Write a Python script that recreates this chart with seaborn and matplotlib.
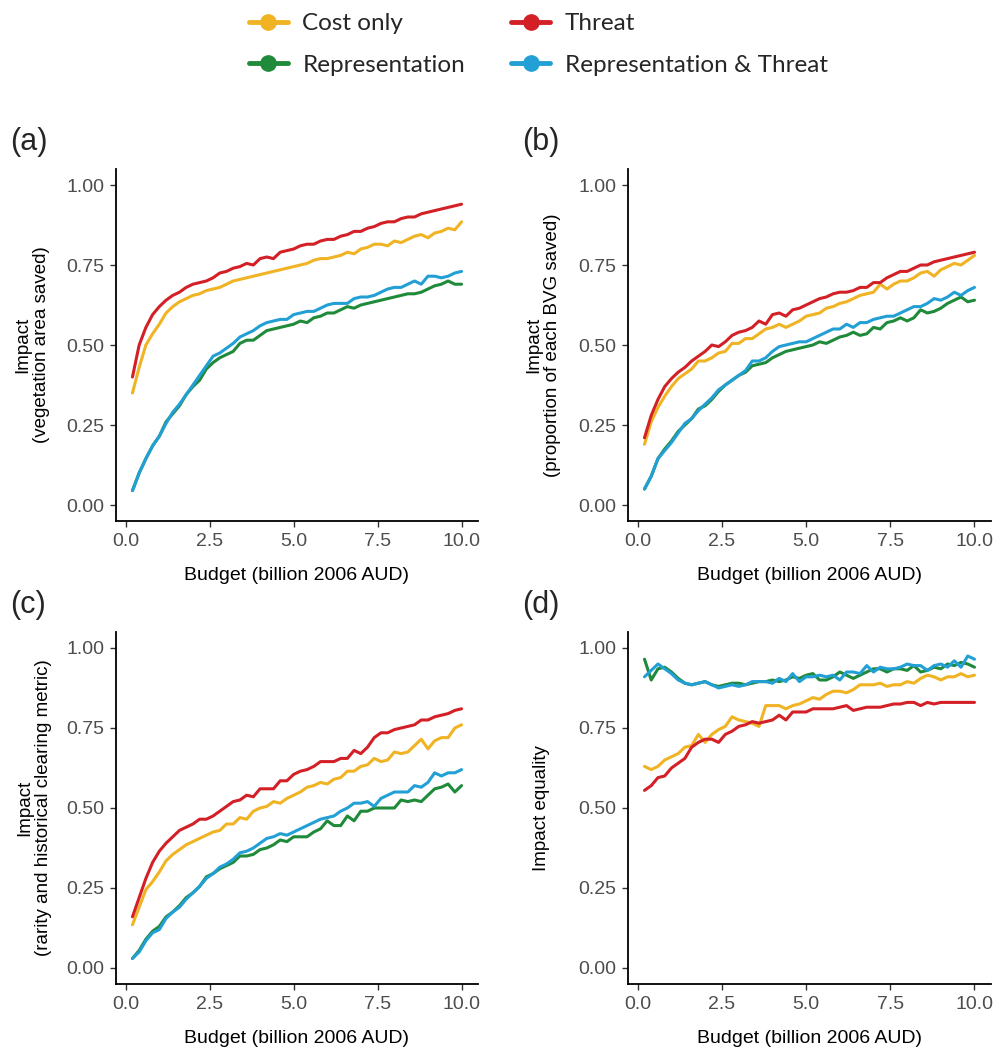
import pandas as pd
import seaborn as sns
import matplotlib.pyplot as plt
from matplotlib.lines import Line2D
from matplotlib.ticker import FormatStrFormatter

# budget grid (billion 2006 AUD)
budget = [0.2, 0.4, 0.6, 0.8, 1.0, 1.2, 1.4, 1.6, 1.8, 2.0,
          2.2, 2.4, 2.6, 2.8, 3.0, 3.2, 3.4, 3.6, 3.8, 4.0,
          4.2, 4.4, 4.6, 4.8, 5.0, 5.2, 5.4, 5.6, 5.8, 6.0,
          6.2, 6.4, 6.6, 6.8, 7.0, 7.2, 7.4, 7.6, 7.8, 8.0,
          8.2, 8.4, 8.6, 8.8, 9.0, 9.2, 9.4, 9.6, 9.8, 10.0]

scenarios = ["Cost only", "Threat", "Representation", "Representation & Threat"]
colors = {"Cost only": "#F0B323", "Threat": "#D32027",
          "Representation": "#1F8A3A", "Representation & Threat": "#22A0D6"}

# (a) vegetation area saved
cost_a = [0.35, 0.43, 0.50, 0.535, 0.565, 0.60, 0.62, 0.635, 0.645, 0.655,
          0.66, 0.67, 0.675, 0.68, 0.69, 0.70, 0.705, 0.71, 0.715, 0.72,
          0.725, 0.73, 0.735, 0.74, 0.745, 0.75, 0.755, 0.765, 0.77, 0.77,
          0.775, 0.78, 0.79, 0.785, 0.80, 0.805, 0.815, 0.815, 0.81, 0.825,
          0.82, 0.83, 0.84, 0.845, 0.835, 0.85, 0.855, 0.865, 0.86, 0.885]
threat_a = [0.40, 0.50, 0.555, 0.595, 0.62, 0.64, 0.655, 0.665, 0.68, 0.69,
            0.695, 0.70, 0.71, 0.725, 0.73, 0.74, 0.745, 0.755, 0.75, 0.77,
            0.775, 0.77, 0.79, 0.795, 0.80, 0.81, 0.815, 0.815, 0.825, 0.83,
            0.83, 0.84, 0.845, 0.855, 0.855, 0.865, 0.87, 0.88, 0.885, 0.885,
            0.895, 0.90, 0.90, 0.91, 0.915, 0.92, 0.925, 0.93, 0.935, 0.94]
rep_a = [0.045, 0.10, 0.145, 0.185, 0.215, 0.26, 0.285, 0.31, 0.345, 0.37,
         0.39, 0.425, 0.445, 0.46, 0.47, 0.48, 0.505, 0.515, 0.515, 0.53,
         0.545, 0.55, 0.555, 0.56, 0.565, 0.575, 0.57, 0.585, 0.59, 0.60,
         0.60, 0.61, 0.62, 0.615, 0.625, 0.63, 0.635, 0.64, 0.645, 0.65,
         0.655, 0.66, 0.66, 0.665, 0.675, 0.685, 0.69, 0.70, 0.69, 0.69]
rt_a = [0.045, 0.10, 0.145, 0.185, 0.215, 0.255, 0.29, 0.315, 0.345, 0.375,
        0.405, 0.435, 0.465, 0.475, 0.49, 0.505, 0.525, 0.535, 0.545, 0.56,
        0.57, 0.575, 0.58, 0.58, 0.595, 0.60, 0.605, 0.605, 0.615, 0.625,
        0.63, 0.63, 0.63, 0.645, 0.65, 0.65, 0.655, 0.665, 0.675, 0.68,
        0.68, 0.69, 0.70, 0.69, 0.715, 0.715, 0.71, 0.715, 0.725, 0.73]

# (b) proportion of each BVG saved
cost_b = [0.19, 0.26, 0.305, 0.34, 0.37, 0.395, 0.41, 0.425, 0.45, 0.45,
          0.46, 0.475, 0.48, 0.505, 0.505, 0.52, 0.52, 0.535, 0.55, 0.555,
          0.565, 0.555, 0.565, 0.575, 0.59, 0.595, 0.60, 0.615, 0.62, 0.63,
          0.635, 0.645, 0.655, 0.66, 0.665, 0.69, 0.675, 0.69, 0.70, 0.70,
          0.71, 0.725, 0.73, 0.715, 0.735, 0.745, 0.755, 0.75, 0.765, 0.78]
threat_b = [0.21, 0.28, 0.33, 0.37, 0.395, 0.415, 0.43, 0.45, 0.465, 0.48,
            0.50, 0.495, 0.51, 0.53, 0.54, 0.545, 0.555, 0.575, 0.565, 0.595,
            0.60, 0.59, 0.61, 0.615, 0.625, 0.635, 0.645, 0.65, 0.66, 0.665,
            0.665, 0.67, 0.68, 0.68, 0.695, 0.695, 0.71, 0.72, 0.73, 0.73,
            0.74, 0.75, 0.75, 0.76, 0.765, 0.77, 0.775, 0.78, 0.785, 0.79]
rep_b = [0.05, 0.09, 0.145, 0.175, 0.20, 0.23, 0.25, 0.27, 0.30, 0.31,
         0.33, 0.355, 0.375, 0.39, 0.405, 0.415, 0.435, 0.44, 0.445, 0.46,
         0.47, 0.48, 0.485, 0.49, 0.495, 0.50, 0.51, 0.505, 0.515, 0.525,
         0.53, 0.54, 0.53, 0.535, 0.555, 0.55, 0.57, 0.575, 0.585, 0.575,
         0.585, 0.61, 0.60, 0.605, 0.615, 0.63, 0.64, 0.65, 0.635, 0.64]
rt_b = [0.05, 0.09, 0.145, 0.17, 0.195, 0.225, 0.255, 0.27, 0.295, 0.315,
        0.335, 0.36, 0.375, 0.39, 0.405, 0.42, 0.45, 0.45, 0.46, 0.48,
        0.495, 0.50, 0.505, 0.51, 0.51, 0.52, 0.53, 0.54, 0.55, 0.55,
        0.565, 0.555, 0.57, 0.57, 0.58, 0.585, 0.59, 0.59, 0.60, 0.61,
        0.62, 0.62, 0.63, 0.645, 0.64, 0.65, 0.665, 0.655, 0.67, 0.68]

# (c) rarity and historical clearing metric
cost_c = [0.135, 0.19, 0.245, 0.27, 0.30, 0.335, 0.355, 0.37, 0.385, 0.395,
          0.405, 0.415, 0.425, 0.43, 0.45, 0.45, 0.47, 0.465, 0.49, 0.50,
          0.505, 0.52, 0.515, 0.53, 0.54, 0.55, 0.565, 0.57, 0.58, 0.575,
          0.59, 0.595, 0.615, 0.615, 0.63, 0.635, 0.655, 0.645, 0.65, 0.675,
          0.67, 0.675, 0.695, 0.715, 0.685, 0.71, 0.72, 0.72, 0.75, 0.76]
threat_c = [0.16, 0.22, 0.28, 0.33, 0.365, 0.39, 0.41, 0.43, 0.44, 0.45,
            0.465, 0.465, 0.475, 0.49, 0.505, 0.52, 0.525, 0.54, 0.535, 0.56,
            0.56, 0.56, 0.585, 0.585, 0.605, 0.615, 0.62, 0.63, 0.645, 0.645,
            0.645, 0.655, 0.655, 0.68, 0.67, 0.69, 0.72, 0.735, 0.735, 0.745,
            0.75, 0.755, 0.76, 0.775, 0.775, 0.785, 0.79, 0.795, 0.805, 0.81]
rep_c = [0.03, 0.055, 0.09, 0.115, 0.13, 0.16, 0.175, 0.195, 0.22, 0.235,
         0.255, 0.285, 0.295, 0.31, 0.32, 0.33, 0.35, 0.35, 0.355, 0.37,
         0.375, 0.385, 0.40, 0.395, 0.41, 0.41, 0.41, 0.425, 0.435, 0.46,
         0.445, 0.445, 0.475, 0.46, 0.49, 0.49, 0.50, 0.50, 0.50, 0.50,
         0.525, 0.52, 0.525, 0.52, 0.54, 0.56, 0.565, 0.575, 0.55, 0.57]
rt_c = [0.03, 0.05, 0.085, 0.11, 0.12, 0.155, 0.175, 0.19, 0.215, 0.235,
        0.255, 0.28, 0.295, 0.315, 0.325, 0.34, 0.36, 0.365, 0.375, 0.39,
        0.405, 0.41, 0.42, 0.415, 0.425, 0.435, 0.445, 0.455, 0.465, 0.47,
        0.475, 0.49, 0.50, 0.515, 0.515, 0.52, 0.505, 0.53, 0.54, 0.55,
        0.55, 0.55, 0.57, 0.565, 0.58, 0.61, 0.60, 0.61, 0.61, 0.62]

# (d) impact equality
cost_d = [0.63, 0.62, 0.63, 0.65, 0.66, 0.67, 0.69, 0.695, 0.73, 0.705,
          0.73, 0.745, 0.755, 0.785, 0.775, 0.77, 0.765, 0.755, 0.82, 0.82,
          0.82, 0.81, 0.82, 0.825, 0.835, 0.845, 0.84, 0.855, 0.865, 0.865,
          0.86, 0.87, 0.885, 0.885, 0.885, 0.89, 0.88, 0.885, 0.885, 0.895,
          0.89, 0.905, 0.915, 0.91, 0.90, 0.91, 0.91, 0.92, 0.91, 0.915]
threat_d = [0.555, 0.57, 0.595, 0.60, 0.625, 0.64, 0.655, 0.69, 0.705, 0.715,
            0.715, 0.705, 0.73, 0.74, 0.755, 0.76, 0.77, 0.765, 0.77, 0.775,
            0.79, 0.775, 0.80, 0.80, 0.80, 0.81, 0.81, 0.81, 0.81, 0.815,
            0.82, 0.805, 0.81, 0.815, 0.815, 0.815, 0.82, 0.825, 0.825, 0.83,
            0.83, 0.82, 0.83, 0.825, 0.83, 0.83, 0.83, 0.83, 0.83, 0.83]
rep_d = [0.965, 0.90, 0.935, 0.94, 0.925, 0.905, 0.89, 0.885, 0.89, 0.895,
         0.885, 0.88, 0.885, 0.89, 0.89, 0.885, 0.89, 0.895, 0.895, 0.90,
         0.895, 0.90, 0.91, 0.905, 0.915, 0.92, 0.90, 0.90, 0.91, 0.925,
         0.915, 0.905, 0.915, 0.925, 0.935, 0.935, 0.925, 0.935, 0.935, 0.93,
         0.945, 0.925, 0.93, 0.94, 0.935, 0.95, 0.945, 0.955, 0.95, 0.94]
rt_d = [0.91, 0.93, 0.95, 0.935, 0.92, 0.90, 0.89, 0.885, 0.89, 0.895,
        0.885, 0.875, 0.88, 0.885, 0.88, 0.885, 0.895, 0.895, 0.895, 0.89,
        0.905, 0.895, 0.92, 0.895, 0.91, 0.91, 0.915, 0.91, 0.915, 0.90,
        0.925, 0.925, 0.92, 0.945, 0.925, 0.94, 0.935, 0.935, 0.94, 0.95,
        0.945, 0.945, 0.93, 0.945, 0.95, 0.94, 0.96, 0.94, 0.975, 0.965]

panels = [
    ("(a)", "Impact\n(vegetation area saved)", [cost_a, threat_a, rep_a, rt_a]),
    ("(b)", "Impact\n(proportion of each BVG saved)", [cost_b, threat_b, rep_b, rt_b]),
    ("(c)", "Impact\n(rarity and historical clearing metric)", [cost_c, threat_c, rep_c, rt_c]),
    ("(d)", "Impact equality", [cost_d, threat_d, rep_d, rt_d]),
]

sns.set_style("ticks")
plt.rcParams["font.family"] = ["Liberation Sans", "DejaVu Sans"]

W, H = 995, 1048
fig = plt.figure(figsize=(W / 100, H / 100), dpi=100)

# axes boxes in pixels: left, top, right, bottom
boxes = [(116, 169, 478, 521), (628, 169, 991, 521),
         (116, 632, 478, 984), (628, 632, 991, 984)]
ylab_right = [50, 561, 52, 550]

for (tag, ylabel, series), (l, t, r, b), yr in zip(panels, boxes, ylab_right):
    ax = fig.add_axes([l / W, 1 - b / H, (r - l) / W, (b - t) / H])
    df = pd.concat([pd.DataFrame({"budget": budget, "impact": vals, "scenario": name})
                    for name, vals in zip(scenarios, series)])
    sns.lineplot(data=df, x="budget", y="impact", hue="scenario",
                 hue_order=scenarios, palette=colors, linewidth=2.2,
                 errorbar=None, legend=False, ax=ax)
    ax.set_xlim(-0.29, 10.49)
    ax.set_ylim(-0.05, 1.05)
    ax.set_xticks([0, 2.5, 5, 7.5, 10])
    ax.set_yticks([0, 0.25, 0.5, 0.75, 1.0])
    ax.xaxis.set_major_formatter(FormatStrFormatter("%.1f"))
    ax.yaxis.set_major_formatter(FormatStrFormatter("%.2f"))
    ax.tick_params(axis="both", labelsize=14, labelcolor="#4D4D4D",
                   color="#333333", length=4.5, width=1.0, pad=4)
    ax.tick_params(axis="x", pad=4)
    for s in ["left", "bottom"]:
        ax.spines[s].set_linewidth(1.3)
        ax.spines[s].set_color("black")
    sns.despine(ax=ax)
    ax.set_xlabel("Budget (billion 2006 AUD)", fontsize=14, color="black")
    ax.set_ylabel(ylabel, fontsize=13.5, color="black", linespacing=1.15)
    ax.xaxis.set_label_coords(0.5, -46 / (b - t))
    ax.yaxis.set_label_coords((yr - l) / (r - l), 0.5)
    fig.text((l - 106) / W, 1 - (t - 27) / H, tag, fontsize=22,
             ha="left", va="center")

# legend laid out column-wise: Cost only / Representation | Threat / Rep & Threat
leg_order = ["Cost only", "Representation", "Threat", "Representation & Threat"]
handles = [Line2D([0], [0], color=colors[s], lw=3.5, marker="o",
                  markersize=11) for s in leg_order]
fig.legend(handles, leg_order, ncol=2, loc="upper left",
           bbox_to_anchor=(249 / W, 1 - 13 / H), frameon=False,
           prop={"family": "Lato", "size": 17.5}, handlelength=1.6,
           handletextpad=0.6, columnspacing=1.9, labelspacing=0.85,
           borderpad=0, borderaxespad=0)

fig.savefig("out.png", dpi=100)
